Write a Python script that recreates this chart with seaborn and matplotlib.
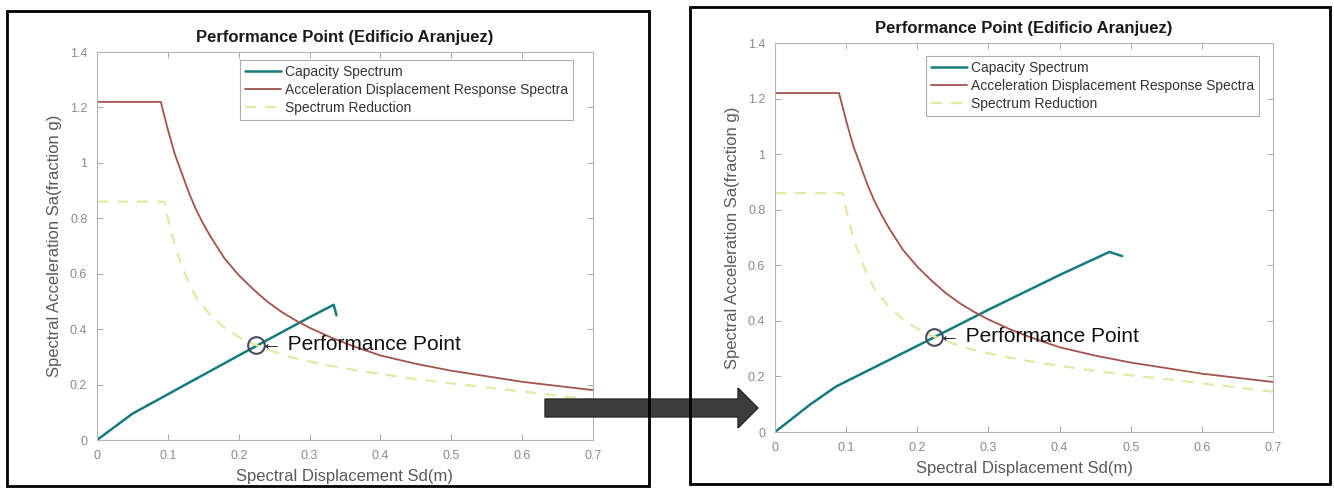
import numpy as np
import pandas as pd
import matplotlib
matplotlib.use('Agg')
import matplotlib.pyplot as plt
import seaborn as sns
from matplotlib.patches import Rectangle, FancyArrow
from matplotlib.ticker import FormatStrFormatter

# Demand spectra (same in both panels)
adrs_sd = [0, 0.09, 0.095, 0.10, 0.11, 0.12, 0.13, 0.14, 0.15, 0.16, 0.18, 0.20,
           0.22, 0.24, 0.26, 0.28, 0.30, 0.33, 0.36, 0.40, 0.45, 0.50, 0.55,
           0.60, 0.65, 0.70]
adrs_sa = [1.22, 1.22, 1.17, 1.12, 1.03, 0.96, 0.89, 0.83, 0.78, 0.735, 0.655, 0.595,
           0.545, 0.50, 0.463, 0.432, 0.405, 0.37, 0.34, 0.305, 0.275, 0.25, 0.23,
           0.21, 0.195, 0.18]
red_sd = [0, 0.095, 0.10, 0.11, 0.12, 0.13, 0.14, 0.16, 0.18, 0.20, 0.22, 0.25,
          0.28, 0.32, 0.36, 0.40, 0.45, 0.50, 0.55, 0.60, 0.65, 0.70]
red_sa = [0.86, 0.86, 0.80, 0.70, 0.625, 0.565, 0.515, 0.45, 0.405, 0.372, 0.347, 0.318,
          0.295, 0.272, 0.254, 0.238, 0.22, 0.204, 0.19, 0.175, 0.16, 0.145]

# Capacity spectra (before / after)
cap_left_sd = [0, 0.05, 0.10, 0.20, 0.30, 0.334, 0.338]
cap_left_sa = [0, 0.095, 0.165, 0.305, 0.443, 0.488, 0.45]
cap_right_sd = [0, 0.05, 0.086, 0.20, 0.30, 0.40, 0.47, 0.488]
cap_right_sa = [0, 0.10, 0.164, 0.31, 0.44, 0.565, 0.648, 0.633]

# Performance point
pp_sd = 0.224
pp_sa = 0.343

title = 'Performance Point (Edificio Aranjuez)'
xticks = [0, 0.1, 0.2, 0.3, 0.4, 0.5, 0.6, 0.7]
yticks = [0, 0.2, 0.4, 0.6, 0.8, 1.0, 1.2, 1.4]

sns.set_style('white')
plt.rcParams['font.family'] = ['Liberation Sans', 'DejaVu Sans']

TEAL = '#177b7e'
BROWN = '#a4534a'
YELLOW = '#e6e6a6'


def draw_panel(ax, cap_sd, cap_sa, leg_anchor):
    """Draw one performance point panel"""
    sns.lineplot(x=cap_sd, y=cap_sa, ax=ax, color=TEAL, lw=1.8,
                 sort=False, label='Capacity Spectrum')
    sns.lineplot(x=adrs_sd, y=adrs_sa, ax=ax, color=BROWN, lw=1.3,
                 sort=False, label='Acceleration Displacement Response Spectra')
    sns.lineplot(x=red_sd, y=red_sa, ax=ax, color=YELLOW, lw=1.6,
                 sort=False, label='Spectrum Reduction', linestyle=(0, (5, 4)))
    ax.plot([pp_sd], [pp_sa], marker='o', ms=12, mfc='none', mec='#4a4a5c', mew=1.5)
    ax.text(pp_sd + 0.007, pp_sa, '\u2190 Performance Point', fontsize=15,
            va='center', ha='left', color='#111111')

    ax.set_xlim(0, 0.7)
    ax.set_ylim(0, 1.4)
    ax.set_xticks(xticks)
    ax.set_yticks(yticks)
    ax.xaxis.set_major_formatter(FormatStrFormatter('%g'))
    ax.yaxis.set_major_formatter(FormatStrFormatter('%g'))
    ax.tick_params(direction='in', length=4, width=0.7, colors='#aaaaaa',
                   labelcolor='#8a8a8a', labelsize=9, pad=7, top=True, right=True,
                   bottom=True, left=True)
    for sp in ax.spines.values():
        sp.set_color('#b5b5b5')
        sp.set_linewidth(0.8)
    ax.set_title(title, fontsize=12, fontweight='bold', pad=7, color='#1a1a1a')
    ax.set_xlabel('Spectral Displacement Sd(m)', fontsize=12, color='#5a5a5a',
                  labelpad=5)
    ax.set_ylabel('Spectral Acceleration Sa(fraction g)', fontsize=12,
                  color='#5a5a5a', labelpad=6)

    leg = ax.legend(loc='upper right', bbox_to_anchor=leg_anchor, fontsize=10,
                    frameon=True, fancybox=False, handlelength=2.6,
                    borderaxespad=0, labelspacing=0.3, handletextpad=0.3,
                    borderpad=0.35)
    leg.get_frame().set_edgecolor('#9a9a9a')
    leg.get_frame().set_linewidth(0.8)
    for t in leg.get_texts():
        t.set_color('#333333')


fig = plt.figure(figsize=(13.34, 4.90), dpi=100)
W, H = 1334.0, 490.0

ax1 = fig.add_axes([97 / W, 1 - 440 / H, (593 - 97) / W, (440 - 52) / H])
ax2 = fig.add_axes([775 / W, 1 - 432 / H, (1273 - 775) / W, (432 - 43) / H])

draw_panel(ax1, cap_left_sd, cap_left_sa, (0.96, 0.979))
draw_panel(ax2, cap_right_sd, cap_right_sa, (0.972, 0.967))

# Big arrow between the panels
arrow = FancyArrow(545 / W, 1 - 408 / H, (738 - 545) / W, 0,
                   width=18 / H, head_width=40 / H, head_length=20 / W,
                   length_includes_head=False, transform=fig.transFigure,
                   facecolor='#3d3d3d', edgecolor='#2a2a2a', zorder=5)
fig.add_artist(arrow)

# Black frames around each panel
fig.add_artist(Rectangle((7 / W, 1 - 486 / H), (649 - 7) / W, (486 - 11) / H,
                         transform=fig.transFigure, fill=False, lw=2,
                         ec='black', zorder=10))
fig.add_artist(Rectangle((690 / W, 1 - 484 / H), (1330 - 690) / W, (484 - 7) / H,
                         transform=fig.transFigure, fill=False, lw=2,
                         ec='black', zorder=10))

fig.savefig('out.png', dpi=100)
